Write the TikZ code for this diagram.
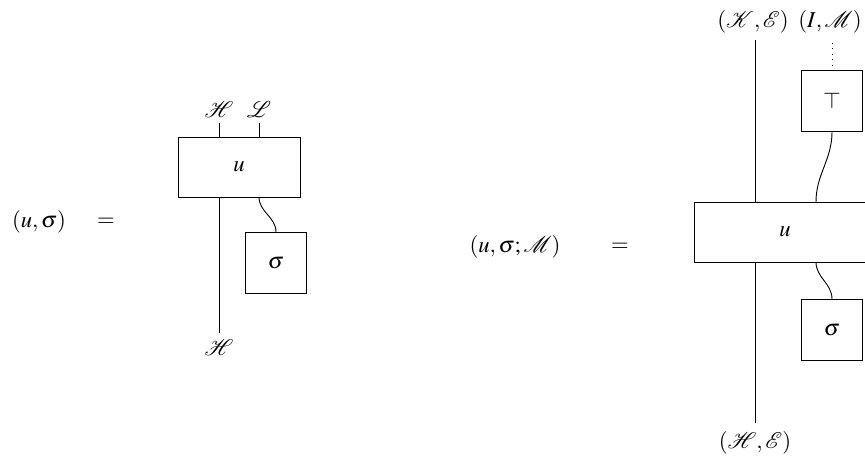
\documentclass[tikz,border=0pt]{standalone}
\usepackage{mathptmx}
\usepackage{mathrsfs}
\begin{document}
\begin{tikzpicture}[x=0.44pt,y=-0.44pt]
\tikzset{boite/.style={draw, rectangle, inner sep=0pt}}
\useasboundingbox (0,0) rectangle (865,457);
\clip (0,0) rectangle (865,457);
% premier diagramme
\node (G1) at (39,222) {$(u,\sigma)$};
\node (E1) at (106,222) {$=$};
\node[boite, minimum width=53.7pt, minimum height=26.4pt] (U1) at (239,167) {$u$};
\node[boite, minimum size=26.8pt] (S1) at (276,263) {$\sigma$};
\node (H1) at (219,110) {$\mathscr{H}$};
\node (L1) at (259,110) {$\mathscr{L}$};
\node (H2) at (219,348) {$\mathscr{H}$};
\coordinate (a1) at (219,123);
\coordinate (b1) at (259,123);
\coordinate (c1) at (219,333);
\coordinate (d1) at (259,197);
\draw (a1) -- (a1 |- U1.north);
\draw (b1) -- (b1 |- U1.north);
\draw (c1 |- U1.south) -- (c1);
\draw (d1) to[out=-90, in=90] (S1.north);
% second diagramme
\node (G2) at (515,247) {$(u,\sigma;\mathscr{M})$};
\node (E2) at (620,247) {$=$};
\node[boite, minimum width=80pt, minimum height=26.4pt] (U2) at (785,232) {$u$};
\node[boite, minimum size=26.8pt] (T2) at (832,101) {$\top$};
\node[boite, minimum size=26.8pt] (S2) at (832,330) {$\sigma$};
\node (K2) at (753,22) {$(\mathscr{K},\mathscr{E})$};
\node (I2) at (830,22) {$(I,\mathscr{M})$};
\node (H3) at (755,443) {$(\mathscr{H},\mathscr{E})$};
\coordinate (a2) at (755,40);
\coordinate (b2) at (832,43);
\coordinate (c2) at (755,423);
\coordinate (d2) at (816,202);
\coordinate (e2) at (816,262);
\draw (a2) -- (a2 |- U2.north);
\draw (c2 |- U2.south) -- (c2);
\draw[dotted] (b2) -- (T2.north);
\draw (T2.south) to[out=-90, in=90] (d2);
\draw (e2) to[out=-90, in=90] (S2.north);
\end{tikzpicture}
\end{document}
